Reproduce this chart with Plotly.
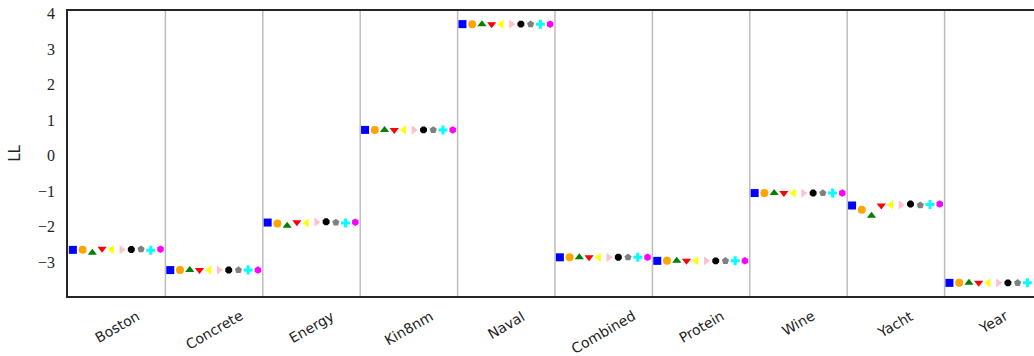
import plotly.graph_objects as go

# Datasets on the x axis
datasets = ["Boston", "Concrete", "Energy", "Kin8nm", "Naval",
            "Combined", "Protein", "Wine", "Yacht", "Year"]

# Test log-likelihood per method, one value per dataset
ll_m1 = [-2.66, -3.23, -1.89, 0.72, 3.70, -2.87, -2.97, -1.06, -1.41, -3.59]
ll_m2 = [-2.66, -3.23, -1.92, 0.72, 3.70, -2.87, -2.97, -1.06, -1.53, -3.59]
ll_m3 = [-2.74, -3.23, -1.98, 0.72, 3.70, -2.87, -2.97, -1.06, -1.70, -3.59]
ll_m4 = [-2.63, -3.23, -1.88, 0.72, 3.70, -2.87, -2.97, -1.06, -1.41, -3.59]
ll_m5 = [-2.65, -3.23, -1.90, 0.72, 3.70, -2.87, -2.97, -1.06, -1.39, -3.59]
ll_m6 = [-2.65, -3.23, -1.88, 0.72, 3.70, -2.87, -2.97, -1.06, -1.39, -3.59]
ll_m7 = [-2.65, -3.23, -1.87, 0.72, 3.70, -2.87, -2.97, -1.06, -1.37, -3.59]
ll_m8 = [-2.64, -3.23, -1.89, 0.72, 3.70, -2.87, -2.97, -1.06, -1.40, -3.59]
ll_m9 = [-2.67, -3.23, -1.90, 0.72, 3.70, -2.87, -2.97, -1.06, -1.38, -3.59]
ll_m10 = [-2.64, -3.23, -1.88, 0.72, 3.70, -2.87, -2.97, -1.06, -1.37, -3.59]

series = [ll_m1, ll_m2, ll_m3, ll_m4, ll_m5, ll_m6, ll_m7, ll_m8, ll_m9, ll_m10]
names = ["M1", "M2", "M3", "M4", "M5", "M6", "M7", "M8", "M9", "M10"]
colors = ["#0000ff", "#ffa500", "#008000", "#ff0000", "#ffff00",
          "#ffc0cb", "#000000", "#808080", "#00ffff", "#ff00ff"]
symbols = ["square", "circle", "triangle-up", "triangle-down", "triangle-left",
           "triangle-right", "octagon", "pentagon", "cross", "hexagon"]
sizes = [8, 8, 8, 8, 8, 8, 7.5, 7.5, 7.5, 7.5]

n_series = len(series)
step = 0.1

fig = go.Figure()
for j, vals in enumerate(series):
    off = (j - (n_series - 1) / 2) * step
    fig.add_trace(go.Scatter(
        x=[i + off for i in range(len(datasets))],
        y=vals,
        mode="markers",
        name=names[j],
        marker=dict(symbol=symbols[j], color=colors[j], size=sizes[j],
                    line=dict(width=0)),
        cliponaxis=True,
    ))

# Separators between dataset columns
for i in range(len(datasets) - 1):
    fig.add_shape(type="line", xref="x", yref="paper",
                  x0=i + 0.5, x1=i + 0.5, y0=0, y1=1,
                  line=dict(color="#bdbdbd", width=1.5), layer="below")

# Rotated dataset names, centred under each column
for i, name in enumerate(datasets):
    fig.add_annotation(x=i, y=0, xref="x", yref="paper",
                       text=name, textangle=-30, showarrow=False,
                       xanchor="center", yanchor="top", yshift=-9,
                       font=dict(family="DejaVu Sans", size=14, color="#222222"))

fig.update_layout(
    width=1034, height=356,
    margin=dict(l=68, r=0, t=11, b=60),
    plot_bgcolor="white", paper_bgcolor="white",
    showlegend=False,
)
fig.update_xaxes(
    range=[-0.5, -0.5 + 966 / 97.4],
    showticklabels=False, ticks="", showgrid=False, zeroline=False,
    showline=True, linecolor="#262626", linewidth=1.5, mirror=True,
)
fig.update_yaxes(
    range=[-3.96, 4.07],
    tickvals=[-3, -2, -1, 0, 1, 2, 3, 4],
    ticks="", showgrid=False, zeroline=False,
    showline=True, linecolor="#262626", linewidth=1.5,
    tickfont=dict(family="Liberation Serif", size=16, color="#222222"),
    ticklabelstandoff=8,
    title=dict(text="LL", font=dict(family="DejaVu Sans", size=15, color="#222222"),
               standoff=14),
)

fig.write_html("out.html")
